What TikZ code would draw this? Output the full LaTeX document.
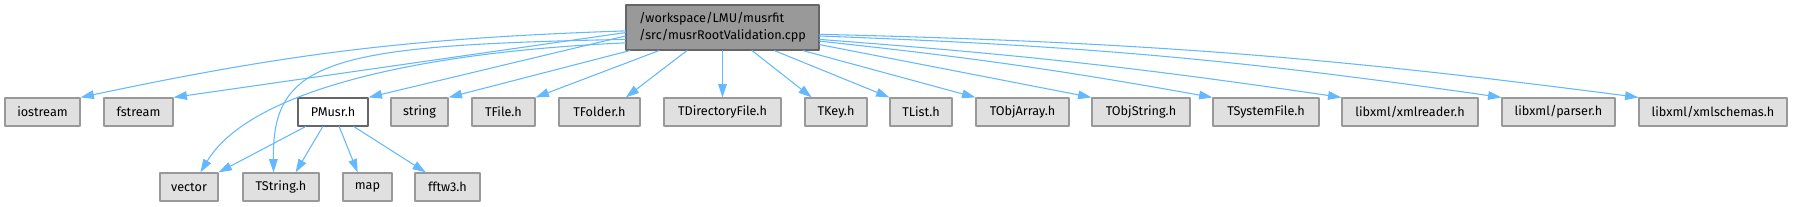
\documentclass[tikz,border=0pt]{standalone}
\usepackage{fontspec}
\setmainfont{Fira Sans}
\usepackage{tikz}
\usetikzlibrary{arrows.meta}
\definecolor{edgeblue}{HTML}{63B8FF}
\definecolor{boxfill}{HTML}{E0E0E0}
\definecolor{boxline}{HTML}{999999}
\definecolor{rootfill}{HTML}{999999}
\definecolor{rootline}{HTML}{666666}
\tikzset{
  every picture/.style={
    line join=round,
    line cap=round,
  },
  % include boxes, one size for all
  hdr/.style={draw=boxline, fill=boxfill, line width=0.9pt, inner sep=0pt,
    minimum height=21pt, font=\fontsize{9.5}{11}\selectfont},
  local/.style={hdr, draw=rootline, fill=white},
  root/.style={hdr, draw=rootline, fill=rootfill, minimum height=33.75pt,
    align=left, font=\fontsize{9.5}{12.5}\selectfont},
  boxw/.style={minimum width=#1*0.75pt},
  inc/.style={edgeblue, line width=0.8pt,
    -{Triangle[length=10pt,width=6.5pt]}},
}

\begin{document}
\begin{tikzpicture}[x=0.75pt,y=0.75pt]
\useasboundingbox (0,0) rectangle (1793,-207);
% top file
\node[root, boxw=193] (main) at (722.5,-27.5)
  {/workspace/LMU/musrfit\\/src/musrRootValidation.cpp};
% first row
\node[hdr, boxw=75]  (iostream) at (42.5,-112) {iostream};
\node[hdr, boxw=69]  (fstream) at (138.5,-112) {fstream};
\node[local, boxw=70] (pmusr) at (333,-112) {PMusr.h};
\node[hdr, boxw=57]  (string) at (419.5,-112) {string};
\node[hdr, boxw=63]  (tfile) at (503.5,-112) {TFile.h};
\node[hdr, boxw=81]  (tfolder) at (599.5,-112) {TFolder.h};
\node[hdr, boxw=117] (tdirfile) at (722.5,-112) {TDirectoryFile.h};
\node[hdr, boxw=62]  (tkey) at (836,-112) {TKey.h};
\node[hdr, boxw=62]  (tlist) at (921,-112) {TList.h};
\node[hdr, boxw=93]  (tobjarray) at (1022.5,-112) {TObjArray.h};
\node[hdr, boxw=98]  (tobjstring) at (1141,-112) {TObjString.h};
\node[hdr, boxw=106] (tsysfile) at (1266,-112) {TSystemFile.h};
\node[hdr, boxw=136] (xmlreader) at (1410,-112) {libxml/xmlreader.h};
\node[hdr, boxw=113] (xmlparser) at (1558.5,-112) {libxml/parser.h};
\node[hdr, boxw=148] (xmlschemas) at (1713,-112) {libxml/xmlschemas.h};
% second row
\node[hdr, boxw=58] (vector) at (189,-187) {vector};
\node[hdr, boxw=76] (tstring) at (281,-187) {TString.h};
\node[hdr, boxw=49] (map) at (367.5,-187) {map};
\node[hdr, boxw=65] (fftw) at (447.5,-187) {fftw3.h};

% includes of the top file
\draw[inc] (main.182) to[bend right=5] (iostream.north east);
\draw[inc] (main.183.5) -- (fstream.north east);
\draw[inc] (main.185.5) -- (pmusr.north east);
\draw[inc] (main.187.5) .. controls (330,-45) and (272,-60) .. (tstring.117);
\draw[inc] (main.189.5) .. controls (420,-52) and (250,-90) .. (vector.52);
\draw[inc] (main.194.7) -- (string.north east);
\draw[inc] (main.200.7) -- (tfile.north east);
\draw[inc] (main.213.8) -- (tfolder.29);
\draw[inc] (main.south) -- (tdirfile.north);
\draw[inc] (main.322.7) -- (tkey.149);
\draw[inc] (main.336.8) -- (tlist.north west);
\draw[inc] (main.344.2) -- (tobjarray.north west);
\draw[inc] (main.350.9) -- (tobjstring.north west);
\draw[inc] (main.352.6) to[bend left=2] (tsysfile.north west);
\draw[inc] (main.353.8) to[bend left=2] (xmlreader.north west);
\draw[inc] (main.355) to[bend left=3] (xmlparser.north west);
\draw[inc] (main.356.7) to[bend left=3] (xmlschemas.north west);
% includes of PMusr.h
\draw[inc] (pmusr.208) -- (vector.north east);
\draw[inc] (pmusr.235) -- (tstring.45);
\draw[inc] (pmusr.293) -- (map.124);
\draw[inc] (pmusr.325) -- (fftw.146);
\end{tikzpicture}
\end{document}
